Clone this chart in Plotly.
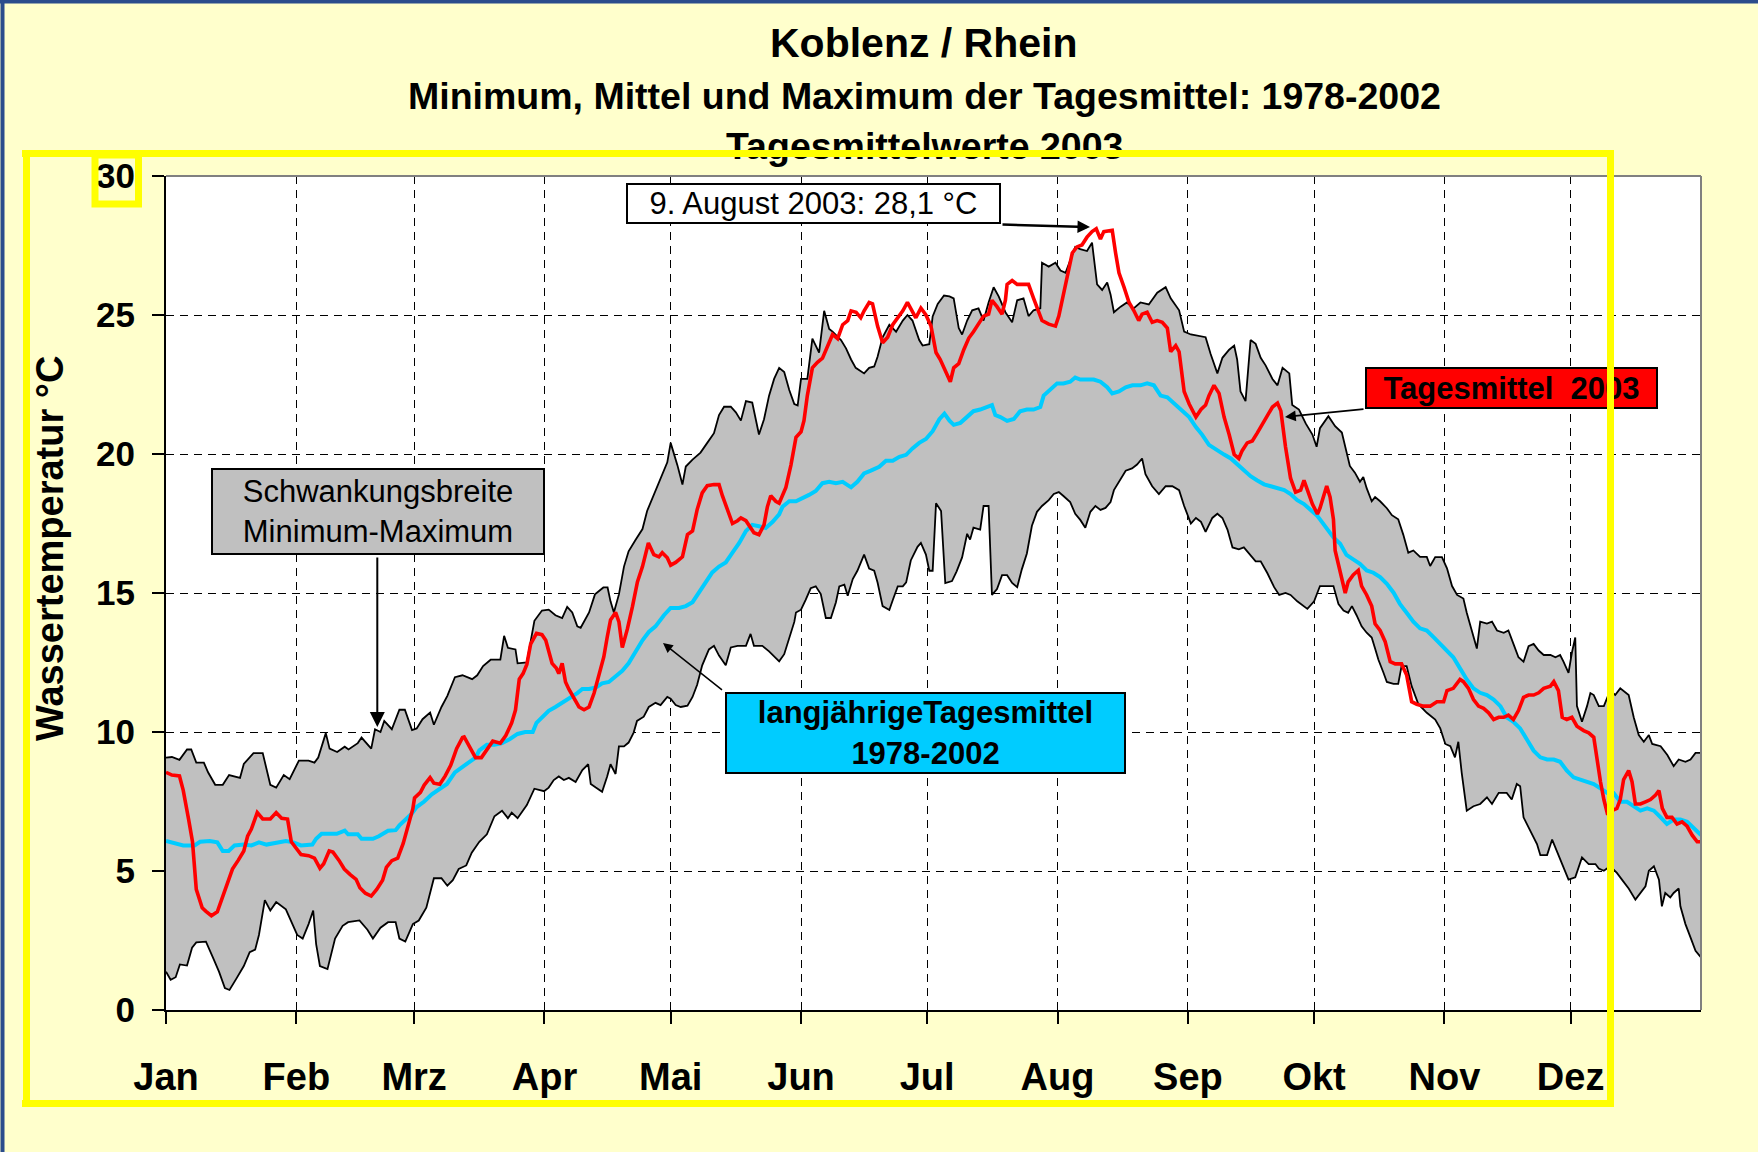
import plotly.graph_objects as go

# ---------------- data (day of year 0..365, water temperature in °C) ----------------
month_days = [0, 31, 59, 90, 120, 151, 181, 212, 243, 273, 304, 334]
month_labels = ["Jan", "Feb", "Mrz", "Apr", "Mai", "Jun", "Jul", "Aug", "Sep", "Okt", "Nov", "Dez"]
y_ticks = [0, 5, 10, 15, 20, 25, 30]

max_day = [0,1.4,3.2,5,6,7.2,9,10,11.7,13.5,15,17.6,18.5,20.8,23,24.8,26.2,28,29.4,31.6,33.9,35.3,36.2,38,38.9,40.7,42.5,43.4,45.6,46.5,48.8,49.7,51,51.9,53.7,55.5,56.8,58.5,59.6,61,62.8,63.7,65.5,66.9,68.7,70.5,72.8,74,75.4,77.2,79.5,80.4,81.3,83.1,83.6,85.8,87.6,89.4,
           91,92.6,94.2,95.4,96.6,97.8,98.6,100.6,102,104,105,105.7,106.5,107.7,108.9,110,111.6,113.3,114.4,116.4,118,119.2,120,121.6,122.8,123.6,125.2,127.1,128.7,130.3,131.5,132.7,134.3,135.5,136.7,137.9,139.4,141,142.2,143.4,144.6,145.8,147,148.2,149.4,150.2,151,152.5,153.7,154.5,155.3,156.5,157.7,158.5,160.5,161.7,162.9,164,166,167.2,168.4,169.2,170.4,172,173.6,175.2,176.3,177.5,179.1,179.9,181.5,182.3,183.5,185,
           186.3,187.3,188.5,189.3,190.5,191.7,193.2,194.4,195.6,196.8,198,199.6,201.2,202.4,203.9,205.1,206.3,207.9,208.3,209.9,211.5,212.7,213.9,215.1,216.2,217.4,219,220.2,221.4,222.6,223.8,224.6,225.4,227,228.5,230.1,231.7,233.7,235.7,237.7,238.9,240.9,242.1,243.7,245.6,247.2,248.4,250,251.2,252.8,254,254.7,255.5,256.7,257.9,259.1,260.3,261.5,263.1,264.3,265.5,267.1,267.8,269.4,271,272.6,273.6,
           274.4,276.4,278,279.6,280.7,281.5,282.7,283.9,284.7,285.5,286.7,287.5,288.7,290.3,291.5,293,294.2,295.4,296.6,298.2,299.8,300.6,301.8,303.4,304.6,305.8,307,308.5,309.3,310.5,311.7,312.5,314.1,315.3,316.5,318.1,319.2,320.4,321.6,322.8,324,325.2,326.4,327.6,329.2,330.4,331.5,332.3,333.5,334.3,335.1,335.5,336.7,337.9,338.7,339.5,340.7,341.9,343.4,344.6,345.8,347.8,349,350.2,351.4,352.6,353.4,355.4,357,358.5,359.7,361.3,362.5,363.7,365]
max_val = [9.08,9.1,9.0,9.37,9.37,8.9,8.9,8.55,8.1,8.1,8.45,8.35,8.85,9.24,9.24,8.1,8.0,8.45,8.3,8.97,8.97,8.9,9.08,9.96,9.4,9.28,9.47,9.37,9.6,9.8,9.4,10.1,10.0,10.4,10.1,10.8,10.8,10.07,10.13,10.46,10.7,10.26,10.9,11.3,11.97,12.04,11.9,12.04,12.37,12.6,12.6,13.46,13.03,12.97,12.47,12.5,14.0,14.37,
           14.4,14.2,14.1,14.5,14.3,13.8,13.75,14.3,14.95,15.2,15.2,14.7,14.3,14.95,15.95,16.5,16.9,17.3,17.95,18.7,19.25,19.7,20.4,19.6,18.9,19.55,19.8,20.05,20.4,20.75,21.4,21.7,21.7,21.5,21.2,21.9,21.85,20.7,21.25,22.1,22.7,23.1,22.95,22.3,21.8,21.75,22.7,22.7,24.15,23.9,23.65,25.15,24.5,24.4,24.1,23.8,23.4,23.1,22.9,23.1,23.15,23.5,24.2,24.65,24.4,24.8,25.0,24.8,24.1,23.9,23.95,24.95,25.4,25.7,
           25.67,25.6,24.53,24.3,24.8,25.17,25.24,24.8,25.45,26.0,25.67,25.1,24.74,25.53,25.6,24.96,25.17,25.24,26.88,26.74,26.88,26.6,26.52,27.0,27.45,27.37,27.3,27.6,26.1,25.9,26.17,25.74,25.1,25.3,25.45,25.24,25.45,25.38,25.8,26.0,25.6,25.17,24.4,24.3,24.25,24.2,23.6,22.9,23.46,23.75,23.9,23.4,22.25,21.9,24.1,23.96,23.46,23.18,22.7,22.47,23.1,22.9,21.76,21.6,21.1,20.7,20.26,
           20.93,21.36,21.0,20.77,20.05,19.57,19.33,19.0,19.17,18.77,18.3,18.45,18.3,18.05,17.8,17.65,17.1,16.45,16.53,16.3,16.3,15.97,16.29,16.29,15.89,15.25,14.93,14.8,14.29,13.65,13.0,13.97,13.9,13.97,13.65,13.57,13.65,13.17,12.69,12.53,13.09,13.17,12.93,12.77,12.77,12.69,12.77,12.53,12.13,12.85,13.4,10.93,10.37,10.93,11.4,11.33,10.93,10.93,11.49,11.33,11.57,11.33,10.53,9.89,9.65,9.89,9.57,9.49,9.17,8.77,9.01,8.93,9.01,9.25,9.25]

min_day = [0,1.1,2.3,3.3,5,6.2,7.2,9.5,11.3,12.6,14,15.1,16.7,18.5,19.9,21.2,22.1,23.5,24.8,26.2,28.5,29.8,31.2,32.5,33.9,35,35.7,36.6,38.4,40.2,42,43.3,46,47.9,49.2,51,52.8,54.6,55.5,56.9,58.7,60.1,61.9,63.7,65.5,66.9,68.2,69.6,71.4,72.7,74.5,76.3,78.1,79.9,81.3,82.2,83.6,85.8,87.6,89.9,
           91,92.2,93.4,94.6,95.8,97.4,99,100.4,101,102.2,103.7,104.9,105.7,106.9,107.7,108.9,110,111.2,112,113.6,114.8,116.4,117.6,119.2,120,121.2,122.4,124,125.2,126.3,127.5,129.1,130.3,131.5,133.1,134.3,135.9,137.9,139,139.8,141.8,143.4,145.8,147,148.2,149.4,149.8,151,152.1,153.3,154.5,155.7,156.9,158.1,159.3,160.1,161.3,162.1,163.3,164.4,166,167.2,168.4,169.2,170.4,172,172.8,174,175.2,176,177.1,178.7,179.5,180.7,181.5,182.3,183.1,184.3,
           185.3,186.9,188,189.3,190.5,191.2,192,193.6,194.4,195.6,196.4,197.6,198.8,200,201.2,202.4,203.5,204.7,205.9,207.1,208.3,209.9,211.1,212.3,213.4,215,216.2,217.4,218.6,219.8,221,222.2,223.4,224.6,225.4,227,228.2,229.7,230.9,232.1,232.9,234.5,236.1,237.7,239.3,240.9,242.1,243.7,244.9,246.1,247.2,248.8,250,251.2,252.4,253.6,255.1,256.3,257.5,259.1,260.3,261.9,263.5,264.7,266.2,267.4,269,270.2,271.4,273,
           274.4,276,277.6,278.8,280,281.1,282,283.1,284.3,285.5,286.7,287.5,288.3,289.5,290.3,291.9,293,293.8,295,296.2,297.8,299.8,301.8,303,304.2,305.4,306.5,307.3,308.1,309.3,310.9,312.5,314.1,315.3,316.9,318.8,320,321.2,322,322.8,324.4,326,326.8,328.4,329.6,331.1,332.3,333.5,335.1,336.7,338.3,339.9,340.7,341.9,343.4,345,346.2,347.8,349.4,350.6,351.8,352.6,353.8,355,355.7,356.5,357.7,358.5,359.7,360.1,361.3,362.5,363.7,365]
min_val = [1.38,1.09,1.18,1.64,1.6,2.24,2.43,2.46,1.84,1.38,0.79,0.72,1.12,1.58,2.08,2.17,2.7,3.95,3.58,3.88,3.62,3.16,2.7,2.57,3.09,3.58,2.37,1.58,1.47,2.57,3.03,3.16,3.22,2.89,2.57,2.96,3.16,3.16,2.57,2.46,3.09,3.22,3.68,4.74,4.74,4.47,4.67,5.07,5.2,5.66,6.05,6.32,6.97,7.17,6.9,7.1,6.9,7.37,7.96,7.87,
           8.0,8.27,8.4,8.27,8.35,8.2,8.63,8.84,8.13,8.0,7.85,8.4,8.84,8.49,9.48,9.48,9.62,9.98,10.4,10.55,10.9,11.05,10.97,11.26,11.2,10.97,10.9,10.95,11.26,11.7,12.4,12.97,13.1,12.75,12.4,13.04,13.1,13.1,13.53,13.1,13.1,12.9,12.54,12.8,13.4,13.96,14.3,14.4,14.75,15.17,15.24,14.96,14.1,14.1,14.67,15.24,15.3,14.9,15.5,15.8,16.38,15.88,15.8,15.38,14.53,14.39,14.74,15.24,15.24,15.38,16.17,16.66,16.8,16.38,15.8,15.8,18.23,17.95,
           15.36,15.43,15.78,16.28,17.13,16.92,17.35,17.28,18.13,18.13,14.93,15.14,15.64,15.64,15.36,15.21,15.85,16.42,17.42,17.92,18.13,18.34,18.56,18.63,18.49,18.27,17.85,17.63,17.35,17.92,18.13,17.99,18.06,18.27,18.7,19.12,19.4,19.48,19.62,19.84,19.27,18.84,18.56,18.84,18.84,18.7,18.13,17.5,17.7,17.56,17.2,17.7,17.85,17.7,17.28,16.64,16.57,16.64,16.42,16.14,16.14,15.71,15.21,14.93,15.0,14.93,14.7,14.57,14.43,14.7,
           15.25,15.25,15.25,14.6,14.37,14.29,14.53,14.2,13.8,13.57,13.4,13.0,12.6,12.13,11.8,11.73,11.73,12.37,12.37,11.65,11.0,10.69,10.45,10.13,9.57,9.49,9.09,9.65,8.53,7.17,7.33,7.41,7.65,7.41,7.81,7.81,7.57,8.13,8.05,6.93,6.45,5.97,5.57,5.57,6.13,5.57,5.09,4.69,4.77,5.49,5.25,5.25,5.09,5.01,5.17,4.93,4.69,4.37,3.97,4.21,4.45,5.01,5.17,4.69,3.73,4.21,4.05,4.21,4.37,3.73,3.09,2.61,2.13,1.89]

y2003_day = [0,1.4,3.2,4.1,5.4,6.3,7.2,8.6,9.5,10.8,12.2,13.5,14.9,15.8,17.2,18.5,19.4,20.3,21.7,23,24.8,26.2,27.5,28.9,29.8,30.7,32.1,33.9,35.3,36.6,37.5,38.8,39.7,41.1,42.4,43.8,45.2,46.1,47.4,48.8,50.1,51.5,52.4,53.7,55.1,56.4,57.8,58.7,59.1,60.5,61.4,62.8,63.7,65.1,66.4,67.7,69.1,70.5,70.9,72.3,73.6,75,76.3,77.7,79.5,80.8,82.2,83.1,84,84.9,85.8,86.7,88.1,89.4,90.3,
             91.8,92.8,93.4,94.2,95,95.8,97,98.2,99.4,100.6,101.8,102.9,104.1,104.9,105.7,106.9,107.7,108.5,109.7,110.9,112.1,113.3,114.7,116,117.2,118,119.2,120,121.2,122.8,124,125.2,126.3,127.5,128.7,130.3,131.5,132.3,133.5,134.7,135.9,136.7,137.9,139,139.8,141,142.2,143,143.8,145,145.8,147.4,148.6,149.8,151,151.7,152.5,153.7,154.9,156.1,157.3,158.5,159.7,160.9,162.1,162.9,164.1,165.2,166,167.2,168,169.2,170.4,171.6,172.8,174,175.2,176.3,177.5,178.3,179.5,180.7,181.9,183.1,
             184.1,185.7,186.5,187.3,188.5,189.7,190.9,192,193.2,194.4,195.6,196.4,197.6,198.8,199.6,200,201.2,202.4,204,205.1,206.3,207.5,208.3,209.9,211.5,212.3,213.5,214.7,215.5,216.6,217.8,219,220.2,221.2,222.2,223,224.2,225,225.8,226.6,227.8,229,230.1,231.3,232.1,233.3,234.5,235.7,236.9,238.1,238.9,240.1,240.9,242.1,243.3,244.9,246.1,247.2,248,249.2,250.4,251.6,252.8,254,255.1,255.9,257.1,258.3,259.5,260.7,261.9,263.1,264.3,265.1,266.2,267.4,268.6,269.8,270.6,271.4,272.6,273.8,
             274.4,275.2,276,276.8,277.6,278,279.2,280.4,281.1,282.3,283.5,284.3,285.5,286.7,287.5,288.7,289.9,291.1,292.3,293.8,295,296.2,297.4,299,300.6,302.2,303.8,304.6,306.1,307.7,308.5,309.7,310.9,312.1,313.3,314.5,315.7,316.9,318.1,319.2,320.4,321.6,322.8,324,325.2,326.4,327.6,329.2,330,331.1,332,333.1,334.3,335.5,337.1,338.3,339.5,340.3,341.1,341.9,342.7,343.8,345,345.8,346.6,347.8,348.6,349.4,350.6,351.8,353,354.2,355,355.8,356.9,358.1,359.3,360.5,361.7,362.9,364.1,365]
y2003_val = [8.55,8.45,8.42,7.9,6.84,6.05,4.34,3.68,3.55,3.39,3.53,4.08,4.67,5.07,5.39,5.72,6.25,6.51,7.1,6.87,6.87,7.1,6.9,6.87,6.05,5.86,5.59,5.55,5.46,5.1,5.26,5.72,5.68,5.39,5.07,4.87,4.7,4.4,4.2,4.1,4.34,4.67,5.13,5.37,5.46,5.99,6.71,7.24,7.63,7.83,8.09,8.36,8.16,8.12,8.42,8.8,9.4,9.8,9.82,9.4,9.08,9.08,9.34,9.67,9.6,9.87,10.33,10.79,11.9,12.1,12.43,13.16,13.55,13.5,13.3,
             12.47,12.3,12.1,12.47,11.8,11.54,11.2,10.9,10.8,10.9,11.4,11.97,12.7,13.4,14.03,14.3,13.96,13.04,13.7,14.5,15.4,15.95,16.8,16.38,16.3,16.45,16.27,16.0,16.1,16.3,17.1,17.23,18.0,18.6,18.86,18.9,18.9,18.5,17.95,17.5,17.6,17.7,17.6,17.37,17.17,17.1,17.45,18.1,18.5,18.3,18.23,18.8,19.6,20.6,20.8,21.2,22.1,23.1,23.3,23.45,23.9,24.3,24.15,24.65,24.8,25.15,25.1,24.9,25.15,25.45,25.4,24.6,24.0,24.2,24.65,24.9,25.15,25.45,25.15,24.9,25.25,25.0,24.6,23.65,
             23.4,22.82,22.6,23.1,23.25,23.75,24.17,24.4,24.67,24.96,25.03,25.53,25.3,25.03,25.53,26.1,26.24,26.1,26.1,26.1,25.6,25.1,24.8,24.67,24.6,24.96,25.8,26.6,27.23,27.45,27.52,27.8,28.0,28.1,27.73,28.0,28.05,28.05,27.23,26.52,26.0,25.45,25.17,24.8,25.03,25.1,24.74,24.8,24.74,24.53,23.68,23.9,23.68,22.25,21.8,21.33,21.6,21.76,22.1,22.47,22.18,21.33,20.7,19.98,19.84,20.12,20.4,20.47,20.76,21.05,21.4,21.69,21.83,21.55,20.26,19.13,18.63,18.7,19.05,18.7,18.2,17.84,
             18.05,18.45,18.85,18.45,17.65,16.53,15.73,15.0,15.4,15.65,15.81,15.25,14.93,14.53,13.89,13.65,13.25,12.53,12.45,12.45,12.05,11.09,11.0,10.93,10.93,11.09,11.09,11.49,11.57,11.89,11.81,11.57,11.17,10.93,10.85,10.69,10.45,10.53,10.53,10.61,10.45,10.77,11.25,11.33,11.33,11.41,11.57,11.65,11.81,11.49,10.53,10.45,10.53,10.21,10.05,9.97,9.81,8.93,8.21,7.57,7.09,7.17,7.25,7.57,8.29,8.61,8.21,7.41,7.41,7.49,7.57,7.73,7.89,7.25,6.93,6.93,6.69,6.77,6.61,6.29,6.05,6.05]

mean_day = [0,2.3,4.1,6.8,8.1,10.4,12.2,13.5,14.9,16.3,18.5,20.3,22.1,23.9,25.7,28.5,30.3,32.1,34.8,35.7,37,39.3,40.6,42.5,43.3,45.6,46.5,49.2,50.6,52.8,54.6,55.5,56.9,58.3,59.6,61.4,63.2,65,66.8,68.7,70.5,72.7,73.6,74.5,76.3,78.1,79.9,81.7,83.6,85.4,87.2,88.1,89.9,
            91,92.6,94.2,95.8,97.8,99,100.6,102.2,103.7,105.3,106.9,108.5,110,111.6,113.3,114.8,116.4,118.4,120,122,123.6,125.2,126.7,128.3,129.9,131.5,133.1,134.7,136.3,137.9,139.4,141,142.6,144.2,145.8,146.6,148.2,149.8,151.3,152.9,154.5,156.1,157.7,159.3,160.9,162.9,164.4,166,167.6,169.6,171.2,172.8,174.4,176,177.5,179.1,180.7,182.3,183.9,185.1,
            186.3,187.3,188.9,190.5,192,193.6,195.2,196.4,197.2,198.4,200,201.6,203.1,204.7,206.3,207.9,208.7,210.3,211.9,213.4,215,216.2,217.4,219,220.6,222.2,223.8,225,226.6,228.2,229.8,231.7,233.3,234.9,236.5,238.1,239.7,241.3,243.3,244.9,246.4,248,250,251.6,253.2,254.7,256.3,257.9,259.5,261.1,262.7,264.3,265.9,267.4,269,270.6,272.2,273.8,
            274.4,276,277.6,279.2,280.7,282.3,283.9,285.5,287.1,288.7,290.3,291.9,293.4,295,296.6,298.2,299.8,301.4,303,304.6,306.1,307.7,309.3,310.9,312.5,314.1,315.7,317.3,318.8,320.4,322,323.6,325.2,326.8,328.4,330,331.5,333.1,334.7,336.3,337.9,339.5,341.1,342.7,344.2,345.8,347.4,349,350.6,352.2,353.8,355.4,356.9,358.5,360.1,361.7,363.3,365]
mean_val = [6.08,5.99,5.92,5.92,6.05,6.08,6.03,5.72,5.72,5.92,5.95,5.92,6.03,5.95,6.0,6.08,6.03,5.92,5.95,6.16,6.34,6.32,6.34,6.45,6.32,6.32,6.16,6.16,6.25,6.45,6.47,6.64,6.82,7.04,7.3,7.5,7.76,7.96,8.13,8.55,8.75,8.97,9.08,9.34,9.54,9.54,9.6,9.74,9.93,10.0,10.0,10.33,10.59,
            10.76,10.9,11.05,11.2,11.4,11.55,11.55,11.6,11.75,11.8,12.0,12.2,12.47,12.9,13.3,13.6,13.8,14.2,14.46,14.46,14.53,14.67,15.03,15.38,15.74,15.95,16.1,16.45,16.8,17.23,17.45,17.4,17.34,17.55,17.83,18.1,18.3,18.3,18.4,18.53,18.67,18.95,19.0,18.95,19.0,18.8,19.0,19.3,19.4,19.54,19.76,19.76,19.9,19.97,20.2,20.4,20.54,20.82,21.25,21.45,
            21.2,21.05,21.12,21.33,21.54,21.6,21.69,21.76,21.4,21.33,21.19,21.26,21.54,21.6,21.6,21.69,22.1,22.33,22.54,22.54,22.6,22.75,22.68,22.68,22.68,22.6,22.4,22.18,22.25,22.4,22.47,22.47,22.54,22.47,22.1,22.04,21.83,21.6,21.33,20.97,20.69,20.33,20.12,19.98,19.84,19.62,19.41,19.2,19.05,18.91,18.84,18.77,18.7,18.56,18.34,18.2,17.99,17.77,
            17.65,17.33,17.0,16.77,16.37,16.21,16.05,15.81,15.73,15.57,15.33,15.01,14.61,14.29,13.97,13.73,13.65,13.41,13.17,12.93,12.69,12.29,11.89,11.57,11.41,11.33,11.17,10.93,10.53,10.37,10.13,9.73,9.33,9.09,9.01,9.01,8.93,8.61,8.37,8.29,8.21,8.13,7.97,7.81,7.81,7.49,7.49,7.33,7.17,7.25,7.17,6.93,6.69,6.85,6.85,6.77,6.53,6.29]

assert len(max_day) == len(max_val), (len(max_day), len(max_val))
assert len(min_day) == len(min_val), (len(min_day), len(min_val))
assert len(y2003_day) == len(y2003_val), (len(y2003_day), len(y2003_val))
assert len(mean_day) == len(mean_val), (len(mean_day), len(mean_val))

# ---------------- figure ----------------
W, H = 1758, 1152
L, R, T, B = 166, 57, 176, 142
PW, PH = W - L - R, H - T - B
FONT = "Arial, 'Liberation Sans', sans-serif"


def px(x):  # pixel -> paper x
    return (x - L) / PW


def py(y):  # pixel -> paper y
    return (H - B - y) / PH


fig = go.Figure()

# min-max band
fig.add_trace(go.Scatter(
    x=max_day + min_day[::-1], y=max_val + min_val[::-1],
    fill="toself", fillcolor="#C0C0C0", line=dict(width=0),
    mode="lines", hoverinfo="skip", showlegend=False))
fig.add_trace(go.Scatter(x=max_day, y=max_val, mode="lines",
                         line=dict(color="black", width=1.8), showlegend=False))
fig.add_trace(go.Scatter(x=min_day, y=min_val, mode="lines",
                         line=dict(color="black", width=1.8), showlegend=False))
fig.add_trace(go.Scatter(x=mean_day, y=mean_val, mode="lines",
                         line=dict(color="#00CCFF", width=4), showlegend=False))
fig.add_trace(go.Scatter(x=y2003_day, y=y2003_val, mode="lines",
                         line=dict(color="#FF0000", width=3.6), showlegend=False))

fig.update_xaxes(
    range=[0, 365], tickmode="array", tickvals=month_days, ticktext=month_labels,
    ticks="outside", ticklen=12, tickwidth=2, tickcolor="black",
    showline=True, linecolor="black", linewidth=2,
    showgrid=True, gridcolor="black", gridwidth=1, griddash="8px,6px",
    zeroline=False, ticklabelstandoff=20,
    tickfont=dict(family=FONT, size=38, color="black", weight="bold"))
fig.update_yaxes(
    range=[0, 30], tickmode="array", tickvals=y_ticks,
    ticks="outside", ticklen=12, tickwidth=2, tickcolor="black",
    showline=True, linecolor="black", linewidth=2,
    showgrid=True, gridcolor="black", gridwidth=1, griddash="8px,6px",
    zeroline=False, ticklabelstandoff=10,
    tickfont=dict(family=FONT, size=35, color="black", weight="bold"))

shapes = [
    # gray top/right frame of plot area
    dict(type="line", xref="paper", yref="paper", x0=0, x1=1, y0=1, y1=1,
         line=dict(color="#808080", width=2), layer="above"),
    dict(type="line", xref="paper", yref="paper", x0=1, x1=1, y0=0, y1=1,
         line=dict(color="#808080", width=2), layer="above"),
    # small highlight box around "30"
    dict(type="rect", xref="paper", yref="paper", x0=px(95), x1=px(138.5), y0=py(204), y1=py(155),
         line=dict(color="#FFFF00", width=7), layer="above"),
    # blue window border
    dict(type="line", xref="paper", yref="paper", x0=px(0), x1=px(W), y0=py(1.5), y1=py(1.5),
         line=dict(color="#2B4C8C", width=4), layer="above"),
    dict(type="line", xref="paper", yref="paper", x0=px(2.5), x1=px(2.5), y0=py(H), y1=py(0),
         line=dict(color="#2B4C8C", width=4), layer="above"),
]

ann = []
# titles
ann.append(dict(text="<b>Koblenz / Rhein</b>", xref="paper", yref="paper", x=px(924), y=py(43),
                showarrow=False, xanchor="center", yanchor="middle",
                font=dict(family=FONT, size=41, color="black")))
ann.append(dict(text="<b>Minimum, Mittel und Maximum der Tagesmittel: 1978-2002</b>", xref="paper", yref="paper",
                x=px(924), y=py(96), showarrow=False, xanchor="center", yanchor="middle",
                font=dict(family=FONT, size=37.5, color="black")))
ann.append(dict(text="<b>Tagesmittelwerte 2003</b>", xref="paper", yref="paper", x=px(924), y=py(146),
                showarrow=False, xanchor="center", yanchor="middle",
                font=dict(family=FONT, size=37.5, color="black")))
# y axis title
ann.append(dict(text="<b>Wassertemperatur °C</b>", xref="paper", yref="paper", x=px(50), y=py(549),
                textangle=-90, showarrow=False, xanchor="center", yanchor="middle",
                font=dict(family=FONT, size=38, color="black")))


def xd(p):  # pixel -> day
    return (p - L) / PW * 365


def yd(p):  # pixel -> °C
    return (H - B - p) / PH * 30


# callout boxes
ann.append(dict(text="9. August 2003: 28,1 °C", x=xd(813.5), y=yd(203.5), xref="x", yref="y",
                showarrow=False, xanchor="center", yanchor="middle", width=371, height=37,
                bgcolor="white", bordercolor="black", borderwidth=2, borderpad=0,
                font=dict(family=FONT, size=31, color="black")))
ann.append(dict(text="Schwankungsbreite<br>Minimum-Maximum", x=xd(378), y=yd(511.5), xref="x", yref="y",
                showarrow=False, xanchor="center", yanchor="middle", width=330, height=83,
                bgcolor="#C0C0C0", bordercolor="black", borderwidth=2, borderpad=0,
                font=dict(family=FONT, size=31, color="black")))
ann.append(dict(text="<b>langjährigeTagesmittel</b><br><b>1978-2002</b>", x=xd(925.5), y=yd(733),
                xref="x", yref="y", showarrow=False, xanchor="center", yanchor="middle",
                width=397, height=78, bgcolor="#00CCFF", bordercolor="black", borderwidth=2, borderpad=0,
                font=dict(family=FONT, size=31, color="black")))
ann.append(dict(text="<b>Tagesmittel  2003</b>", x=xd(1511.5), y=yd(388), xref="x", yref="y",
                showarrow=False, xanchor="center", yanchor="middle", width=289, height=38,
                bgcolor="#FF0000", bordercolor="black", borderwidth=2, borderpad=0,
                font=dict(family=FONT, size=31, color="black")))

# arrows
def arrow(x0, y0, x1, y1, width, size, head):
    return dict(text="", x=xd(x1), y=yd(y1), ax=xd(x0), ay=yd(y0), xref="x", yref="y",
                axref="x", ayref="y", showarrow=True, arrowhead=head, arrowsize=size,
                arrowwidth=width, arrowcolor="black", standoff=0, startstandoff=0)


ann.append(arrow(1001, 224.5, 1090, 227, 2.5, 1.0, 2))
ann.append(arrow(377.3, 556, 377.3, 727, 2.0, 1.5, 2))
ann.append(arrow(723.5, 691, 663, 643, 1.5, 1.3, 2))
ann.append(arrow(1365, 409, 1285, 417, 1.8, 1.2, 2))

# yellow highlight frame (drawn last so it sits on top)
NB = "\u00a0"
for (cx, cy, w, h) in [(818, 154, 1592, 7), (818, 1103, 1592, 7), (26, 629, 7, 956), (1610.5, 629, 7, 956)]:
    ann.append(dict(text=NB, xref="paper", yref="paper", x=px(cx), y=py(cy), xanchor="center",
                    yanchor="middle", width=w, height=h, bgcolor="#FFFF00", borderwidth=0, borderpad=0,
                    showarrow=False, font=dict(size=4)))

fig.update_layout(
    width=W, height=H,
    margin=dict(l=L, r=R, t=T, b=B, autoexpand=False),
    paper_bgcolor="#FFFFCC", plot_bgcolor="white",
    showlegend=False, shapes=shapes, annotations=ann,
    font=dict(family=FONT, color="black"),
)

fig.write_html("out.html", config={"displayModeBar": False},
               post_script="document.body.style.margin='0';document.body.style.padding='0';")
